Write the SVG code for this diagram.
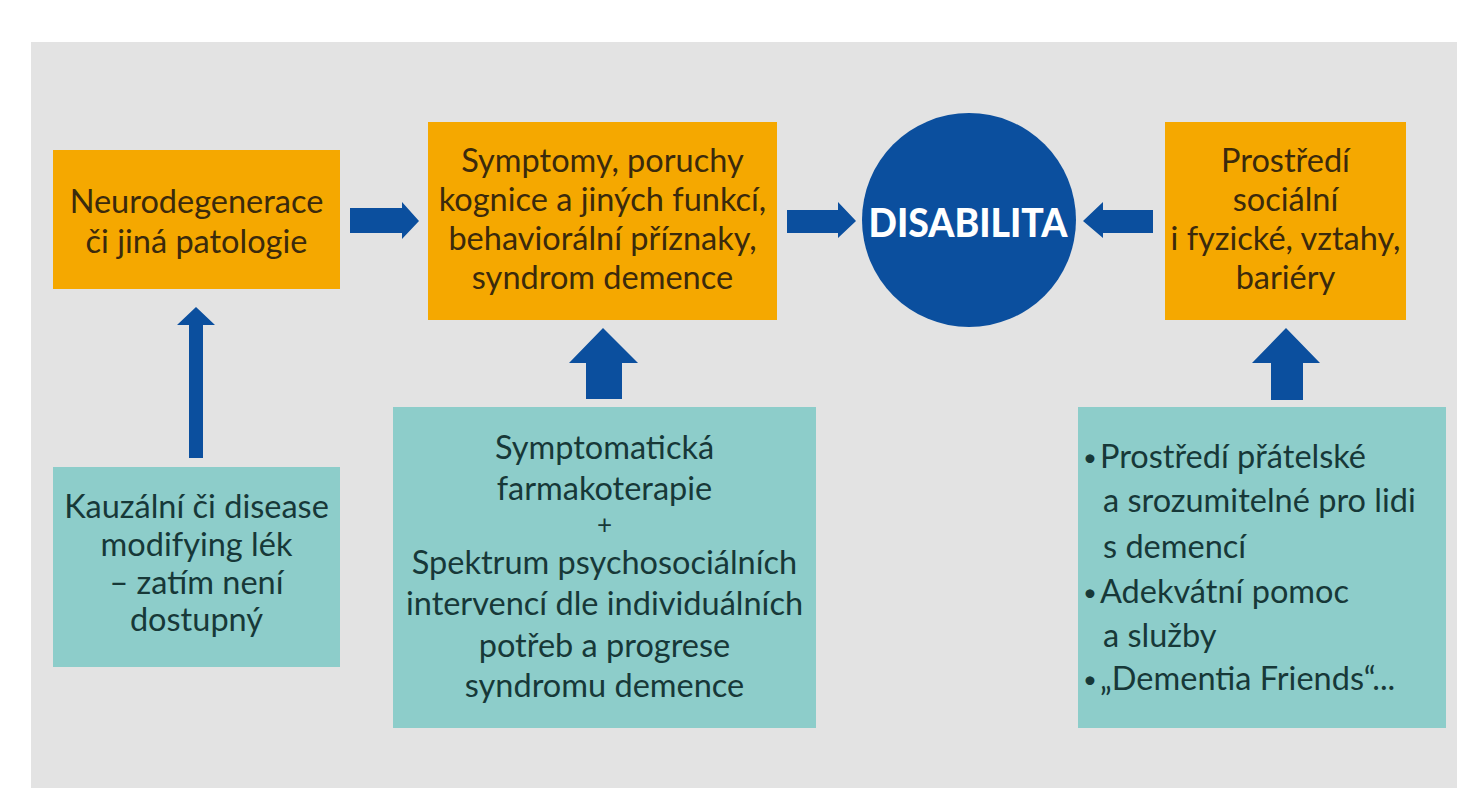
<svg xmlns="http://www.w3.org/2000/svg" width="1475" height="800" viewBox="0 0 1475 800">
<defs>
<style>
.bg{fill:#e3e3e3}
.orange{fill:#f5a800}
.teal{fill:#8dcdca}
.blue{fill:#0b4f9e}
.t{font-family:Lato,"Open Sans","Liberation Sans",sans-serif;font-size:32.5px;text-anchor:middle}
.to{fill:#3b2a0c}
.tt{fill:#173838}
.tl{text-anchor:start}
.plus{font-size:26px}
.bul{font-size:24px}
.dis{font-family:Lato,"Liberation Sans",sans-serif;font-weight:900;font-size:40px;fill:#ffffff;text-anchor:middle}
</style>
</defs>
<rect x="0" y="0" width="1475" height="800" fill="#ffffff"/>
<rect class="bg" x="31" y="42" width="1426" height="746"/>

<g id="connectors">
<polygon class="blue" points="350,208 402,208 402,202 419,221 402,239 402,233 350,233"/>
<polygon class="blue" points="189,458 189,325 177,325 196,307 215,325 203,325 203,458"/>
<polygon class="blue" points="586,399 586,363 569,363 603,328 638,363 622,363 622,399"/>
<polygon class="blue" points="787,210 838,210 838,202 856,221 838,238 838,233 787,233"/>
<polygon class="blue" points="1153,210 1103,210 1103,202 1083,221 1103,238 1103,233 1153,233"/>
<polygon class="blue" points="1271,400 1271,363 1252,363 1286,328 1320,363 1303,363 1303,400"/>
</g>

<g id="node-neuro">
<rect class="orange" x="53" y="150" width="287" height="139"/>
<text class="t to" x="196.5" y="213">Neurodegenerace</text>
<text class="t to" x="196.5" y="253">či jiná patologie</text>
</g>

<g id="node-symptomy">
<rect class="orange" x="428" y="122" width="349" height="198"/>
<text class="t to" x="602.5" y="172">Symptomy, poruchy</text>
<text class="t to" x="602.5" y="211">kognice a jiných funkcí,</text>
<text class="t to" x="602.5" y="250">behaviorální příznaky,</text>
<text class="t to" x="602.5" y="289">syndrom demence</text>
</g>

<g id="node-disabilita">
<circle class="blue" cx="969" cy="220" r="107"/>
<text class="dis" x="968" y="237" textLength="199" lengthAdjust="spacingAndGlyphs">DISABILITA</text>
</g>

<g id="node-prostredi">
<rect class="orange" x="1165" y="122" width="241" height="198"/>
<text class="t to" x="1285.5" y="172">Prostředí</text>
<text class="t to" x="1285.5" y="211">sociální</text>
<text class="t to" x="1285.5" y="250">i fyzické, vztahy,</text>
<text class="t to" x="1285.5" y="289">bariéry</text>
</g>

<g id="node-kauzalni">
<rect class="teal" x="53" y="467" width="287" height="200"/>
<text class="t tt" x="196.5" y="518">Kauzální či disease</text>
<text class="t tt" x="196.5" y="556">modifying lék</text>
<text class="t tt" x="196.5" y="594">– zatím není</text>
<text class="t tt" x="196.5" y="631">dostupný</text>
</g>

<g id="node-symptomaticka">
<rect class="teal" x="393" y="407" width="423" height="321"/>
<text class="t tt" x="604.5" y="459">Symptomatická</text>
<text class="t tt" x="604.5" y="500">farmakoterapie</text>
<text class="t tt plus" x="604.5" y="534">+</text>
<text class="t tt" x="604.5" y="574">Spektrum psychosociálních</text>
<text class="t tt" x="604.5" y="615">intervencí dle individuálních</text>
<text class="t tt" x="604.5" y="657">potřeb a progrese</text>
<text class="t tt" x="604.5" y="697">syndromu demence</text>
</g>

<g id="node-prostredi-pratelske">
<rect class="teal" x="1078" y="407" width="368" height="321"/>
<text class="t tt tl" x="1083" y="466"><tspan class="bul">•</tspan><tspan dx="3" dy="2">Prostředí přátelské</tspan></text>
<text class="t tt tl" x="1103" y="512">a srozumitelné pro lidi</text>
<text class="t tt tl" x="1103" y="558">s demencí</text>
<text class="t tt tl" x="1083" y="601"><tspan class="bul">•</tspan><tspan dx="3" dy="2">Adekvátní pomoc</tspan></text>
<text class="t tt tl" x="1103" y="647">a služby</text>
<text class="t tt tl" x="1083" y="688"><tspan class="bul">•</tspan><tspan dx="3" dy="2">„Dementia Friends“...</tspan></text>
</g>
</svg>
